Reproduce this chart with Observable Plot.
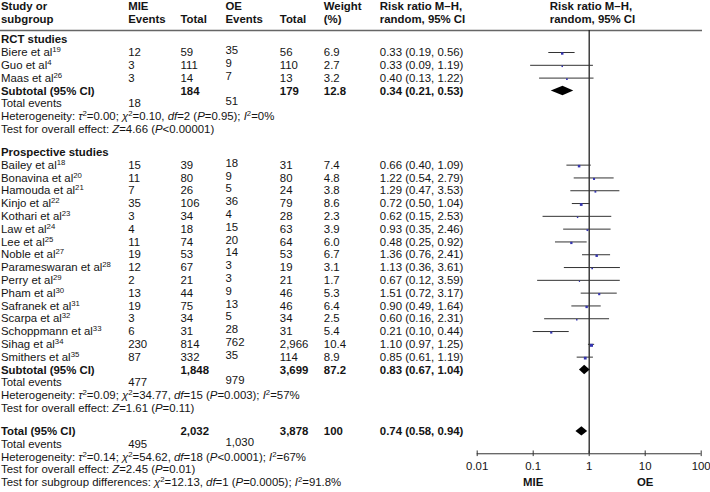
<!DOCTYPE html>
<html><head><meta charset="utf-8">
<script src="https://cdn.jsdelivr.net/npm/d3@7"></script>
<script src="https://cdn.jsdelivr.net/npm/@observablehq/plot@0.6"></script>
<style>
html,body{margin:0;padding:0;background:#fff;}
#chart{position:relative;width:710px;height:492px;overflow:hidden;background:#fff;}
#chart svg{position:absolute;top:0;left:0;}
</style></head><body><div id="chart"></div>
<script>
// ---------------- data ----------------
const studyNames = ["Biere et al","Guo et al","Maas et al","Bailey et al","Bonavina et al","Hamouda et al","Kinjo et al","Kothari et al","Law et al","Lee et al","Noble et al","Parameswaran et al","Perry et al","Pham et al","Safranek et al","Scarpa et al","Schoppmann et al","Sihag et al","Smithers et al"];
const studyRefs = [19,4,26,18,20,21,22,23,24,25,27,28,29,30,31,32,33,34,35];
const studyGroup = [0,0,0,1,1,1,1,1,1,1,1,1,1,1,1,1,1,1,1];
const mieEvents = [12,3,3,15,11,7,35,3,4,11,19,12,2,13,19,3,6,230,87];
const mieTotal = [59,111,14,39,80,26,106,34,18,74,53,67,21,44,75,34,31,814,332];
const oeEvents = [35,9,7,18,9,5,36,4,15,20,14,3,3,9,13,5,28,762,35];
const oeTotal = [56,110,13,31,80,24,79,28,63,64,53,19,21,46,46,34,31,2966,114];
const weights = [6.9,2.7,3.2,7.4,4.8,3.8,8.6,2.3,3.9,6.0,6.7,3.1,1.7,5.3,6.4,2.5,5.4,10.4,8.9];
const rr = [0.33,0.33,0.40,0.66,1.22,1.29,0.72,0.62,0.93,0.48,1.36,1.13,0.67,1.51,0.90,0.60,0.21,1.10,0.85];
const lo = [0.19,0.09,0.13,0.40,0.54,0.47,0.50,0.15,0.35,0.25,0.76,0.36,0.12,0.72,0.49,0.16,0.10,0.97,0.61];
const hi = [0.56,1.19,1.22,1.09,2.79,3.53,1.04,2.53,2.46,0.92,2.41,3.61,3.59,3.17,1.64,2.31,0.44,1.25,1.19];

const groupNames = ["RCT studies","Prospective studies"];
const subMieEvents = [18,477];
const subMieTotal = [184,1848];
const subOeEvents = [51,979];
const subOeTotal = [179,3699];
const subWeight = [12.8,87.2];
const subRR = [0.34,0.83];
const subLo = [0.21,0.67];
const subHi = [0.53,1.04];
const subHet = ["_τ_^2^=0.00; _χ_^2^=0.10, _df_=2 (_P_=0.95); _I_^2^=0%",
                "_τ_^2^=0.09; _χ_^2^=34.77, _df_=15 (_P_=0.003); _I_^2^=57%"];
const subEffect = ["_Z_=4.66 (_P_<0.00001)","_Z_=1.61 (_P_=0.11)"];

const totalMieEvents = 495, totalMieTotal = 2032, totalOeEvents = 1030, totalOeTotal = 3878, totalWeight = "100";
const totalRR = 0.74, totalLo = 0.58, totalHi = 0.94;
const totalHet = "_τ_^2^=0.14; _χ_^2^=54.62, _df_=18 (_P_<0.0001); _I_^2^=67%";
const totalEffect = "_Z_=2.45 (_P_=0.01)";
const subgroupDiff = "_χ_^2^=12.13, _df_=1 (_P_=0.0005); _I_^2^=91.8%";

const headerTop = ["Study or","MIE","","OE","","Weight","Risk ratio M–H,","Risk ratio M–H,"];
const headerBottom = ["subgroup","Events","Total","Events","Total","(%)","random, 95% CI","random, 95% CI"];

const axisTicks = [0.01,0.1,1,10,100];
const axisTickLabels = ["0.01","0.1","1","10","100"];
const favourLabels = ["MIE","OE"];
const favourAt = [0.1,10];

// ---------------- layout / style ----------------
const W = 710, H = 492;
const COL = {name:0.5, mieEv:127.7, mieTot:180, oeEv:225, oeTot:279.3, weight:323.3, ci:379.3, forest:549.3};
const headerCols = ["name","mieEv","mieTot","oeEv","oeTot","weight","ci","forest"];
const ROW_PX = 12.8, ROW0_PX = 39.2, GAP = 1.8;
const HEAD1 = -2.63, HEAD2 = -1.58, RULE_ROW = -0.72, AXIS_ROW = 32.35, TICKLABEL_ROW = 33.3, FAV_ROW = 34.6;
const DIAMOND_HALF = 0.37, TICK_HALF = 0.22;
const FS = 11.4, FONT = "Liberation Sans, Arial, Helvetica, sans-serif";
const INK = "#141414", LINE = "#333", MARKER = "#3535b0";
const yScale = {type:"linear", domain:[-3,35], range:[ROW0_PX-3*ROW_PX, ROW0_PX+35*ROW_PX], axis:null};

const fmt = d3.format(",");
const f2 = d => d.toFixed(2);
const ciText = (e,l,h) => `${f2(e)} (${f2(l)}, ${f2(h)})`;

// ---------------- build rows ----------------
const T = [], S = [], D = [];
const put = (row, col, text, opt = {}) => T.push({row, col, text, bold: !!opt.bold, raised: !!opt.raised});
let row = 0;
groupNames.forEach((g, gi) => {
  put(row, "name", g, {bold:true}); row++;
  studyNames.forEach((n, i) => {
    if (studyGroup[i] !== gi) return;
    put(row, "name", `${n}^${studyRefs[i]}^`);
    put(row, "mieEv", fmt(mieEvents[i]));
    put(row, "mieTot", fmt(mieTotal[i]));
    put(row, "oeEv", fmt(oeEvents[i]), {raised:true});
    put(row, "oeTot", fmt(oeTotal[i]));
    put(row, "weight", weights[i].toFixed(1));
    put(row, "ci", ciText(rr[i], lo[i], hi[i]));
    S.push({row, rr: rr[i], lo: lo[i], hi: hi[i], w: weights[i]});
    row++;
  });
  put(row, "name", "Subtotal (95% CI)", {bold:true});
  put(row, "mieTot", fmt(subMieTotal[gi]), {bold:true});
  put(row, "oeTot", fmt(subOeTotal[gi]), {bold:true});
  put(row, "weight", subWeight[gi].toFixed(1), {bold:true});
  put(row, "ci", ciText(subRR[gi], subLo[gi], subHi[gi]), {bold:true});
  D.push({row, rr: subRR[gi], lo: subLo[gi], hi: subHi[gi]});
  row++;
  put(row, "name", "Total events");
  put(row, "mieEv", fmt(subMieEvents[gi]));
  put(row, "oeEv", fmt(subOeEvents[gi]), {raised:true});
  row++;
  put(row, "name", "Heterogeneity: " + subHet[gi]); row++;
  put(row, "name", "Test for overall effect: " + subEffect[gi]); row += GAP;
});
put(row, "name", "Total (95% CI)", {bold:true});
put(row, "mieTot", fmt(totalMieTotal), {bold:true});
put(row, "oeTot", fmt(totalOeTotal), {bold:true});
put(row, "weight", totalWeight, {bold:true});
put(row, "ci", ciText(totalRR, totalLo, totalHi), {bold:true});
D.push({row, rr: totalRR, lo: totalLo, hi: totalHi});
row++;
put(row, "name", "Total events");
put(row, "mieEv", fmt(totalMieEvents));
put(row, "oeEv", fmt(totalOeEvents), {raised:true});
row++;
put(row, "name", "Heterogeneity: " + totalHet); row++;
put(row, "name", "Test for overall effect: " + totalEffect); row++;
put(row, "name", "Test for subgroup differences: " + subgroupDiff);

headerCols.forEach((c, i) => {
  if (headerTop[i]) put(HEAD1, c, headerTop[i], {bold:true});
  if (headerBottom[i]) put(HEAD2, c, headerBottom[i], {bold:true});
});

const DP = D.flatMap((d, k) => [
  {k, x: d.lo, y1: d.row, y2: d.row},
  {k, x: d.rr, y1: d.row - DIAMOND_HALF, y2: d.row + DIAMOND_HALF},
  {k, x: d.hi, y1: d.row, y2: d.row}
]);

// ---------------- plots ----------------
const textMark = (data, extra = {}) => Plot.text(data, {
  x: d => COL[d.col], y: "row", text: "text", textAnchor: "start",
  fontSize: FS, fontFamily: FONT, fill: INK, ...extra
});

const table = Plot.plot({
  width: W, height: H, marginLeft: 0, marginTop: 0, marginBottom: 0, marginRight: 8,
  style: {background: "#fff", overflow: "visible"},
  x: {type: "linear", domain: [0, W], range: [0, W], axis: null},
  y: yScale,
  marks: [
    Plot.ruleY([RULE_ROW], {stroke: "#666", strokeWidth: 1.3}),
    textMark(T.filter(d => !d.bold && !d.raised)),
    textMark(T.filter(d => d.raised), {dy: -2}),
    textMark(T.filter(d => d.bold), {fontWeight: "bold"})
  ]
});

const forest = Plot.plot({
  width: W, height: H, margin: 0,
  style: {background: "transparent", overflow: "visible"},
  x: {type: "log", domain: [axisTicks[0], axisTicks[axisTicks.length - 1]], range: [476.7, 700.7], axis: null},
  y: yScale,
  r: {type: "sqrt", domain: [0, d3.max(weights)], range: [0, 1.7]},
  marks: [
    Plot.ruleX([1], {x: d => d, y1: () => RULE_ROW, y2: () => AXIS_ROW, stroke: "#222", strokeWidth: 1.3}),
    Plot.ruleY(S, {y: "row", x1: "lo", x2: "hi", stroke: LINE, strokeWidth: 1}),
    Plot.dot(S, {x: "rr", y: "row", r: "w", symbol: "square", fill: MARKER, dy: 1}),
    Plot.areaY(DP, {x: "x", y1: "y1", y2: "y2", z: "k", fill: "#000", curve: "linear"}),
    Plot.ruleY([AXIS_ROW], {y: d => d, x1: () => axisTicks[0], x2: () => axisTicks[axisTicks.length - 1], stroke: LINE, strokeWidth: 1}),
    Plot.ruleX(axisTicks, {x: d => d, y1: () => AXIS_ROW - TICK_HALF, y2: () => AXIS_ROW + TICK_HALF, stroke: LINE, strokeWidth: 1}),
    Plot.text(axisTicks, {x: d => d, y: () => TICKLABEL_ROW, text: (d, i) => axisTickLabels[i], fontSize: FS, fontFamily: FONT, fill: INK}),
    Plot.text(favourLabels, {x: (d, i) => favourAt[i], y: () => FAV_ROW, text: d => d, fontSize: FS, fontFamily: FONT, fill: INK, fontWeight: "bold"})
  ]
});

// rich text: _italic_ and ^superscript^
function richify(svg) {
  d3.select(svg).selectAll("text").each(function () {
    const s = this.textContent;
    if (!/[_^]/.test(s)) return;
    const el = d3.select(this);
    el.text(null);
    const parts = s.split(/(_[^_]+_|\^[^^]+\^)/).filter(p => p);
    let up = false;
    for (const p of parts) {
      if (p[0] === "^") {
        el.append("tspan").attr("font-size", "0.68em").attr("dy", up ? null : -4).text(p.slice(1, -1));
        up = true;
      } else {
        const t = el.append("tspan").text(p[0] === "_" ? p.slice(1, -1) : p);
        if (p[0] === "_") t.attr("font-style", "italic");
        if (up) { t.attr("dy", 4); up = false; }
      }
    }
  });
}
richify(table);

const host = document.getElementById("chart");
host.appendChild(table);
host.appendChild(forest);
</script></body></html>
